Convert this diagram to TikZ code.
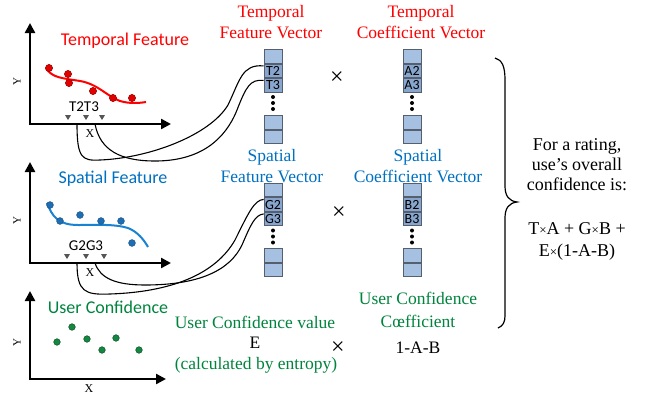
\documentclass[tikz,border=0pt]{standalone}
\usepackage{fontspec}
\setmainfont{Liberation Serif}
\newfontfamily\tnr{Liberation Serif}
\newfontfamily\calib{Carlito}
\usetikzlibrary{arrows.meta}
\definecolor{tred}{RGB}{255,0,0}
\definecolor{sblue}{RGB}{0,112,192}
\definecolor{ugreen}{RGB}{0,132,61}
\definecolor{dotred}{RGB}{225,0,0}
\definecolor{dotblue}{RGB}{30,110,180}
\definecolor{dotgreen}{RGB}{20,135,65}
\definecolor{curveblue}{RGB}{25,130,210}
\definecolor{boxfill}{RGB}{165,192,224}
\definecolor{boxlab}{RGB}{135,165,205}
\definecolor{boxdraw}{RGB}{85,95,110}
\definecolor{markgray}{RGB}{85,85,85}
\tikzset{
  axisline/.style={line width=2.4pt,-{Triangle[length=10pt,width=10pt]}},
  vbox/.style={draw=boxdraw,fill=boxfill,minimum width=18pt,minimum height=13.5pt,inner sep=0pt,line width=0.7pt},
  vlab/.style={vbox,fill=boxlab,font=\calib\fontsize{14}{14}\selectfont},
  sanslab/.style={font=\calib\fontsize{18}{21}\selectfont,inner sep=0pt},
  seriflab/.style={font=\tnr\fontsize{17.5}{21}\selectfont,align=center,inner sep=0pt},
  timeslab/.style={font=\tnr\fontsize{24}{24}\selectfont,inner sep=0pt,text height=9pt,text depth=0pt},
  ticklab/.style={font=\calib\fontsize{15}{15}\selectfont,inner sep=0pt},
  axlab/.style={font=\tnr\fontsize{11}{11}\selectfont,inner sep=0pt},
  xlab/.style={font=\tnr\fontsize{12}{12}\selectfont,inner sep=0pt},
  conn/.style={line width=1.1pt},
  tmark/.style={fill=markgray},
}
\newcommand{\tmk}[2]{\fill[tmark] (#1-3,#2-5) -- (#1+3,#2-5) -- (#1,#2) -- cycle;}
\begin{document}
\begin{tikzpicture}[x=1pt,y=-1pt]
\useasboundingbox (0,0) rectangle (646,400);

% ---------- Temporal plot ----------
\draw[axisline] (30,125.2) -- (30,23);
\draw[axisline] (28.8,124) -- (171,124);
\node[axlab,rotate=90] (ty) at (17,82) {Y};
\node[xlab] (tx) at (90,134) {X};
\node[sanslab,text=tred] (tfl) at (125,41) {Temporal Feature};
\draw[tred,line width=2pt] (46,68) .. controls (52,78) and (62,78) .. (80,81)
  .. controls (98,84) and (108,97) .. (120,101) .. controls (130,104) and (140,103) .. (146,102);
\foreach \p in {(49,68),(68,74),(69,83),(93,91),(113,98),(132,98)}
  \filldraw[fill=dotred,draw=red!60!black,line width=0.5pt] \p circle (3.6pt);
\tmk{68}{120}\tmk{86}{120}\tmk{102}{120}
\node[ticklab] (tt) at (84,107) {T2T3};

% ---------- Spatial plot ----------
\draw[axisline] (30,264.2) -- (30,162);
\draw[axisline] (28.8,263) -- (171,263);
\node[axlab,rotate=90] (sy) at (17,221) {Y};
\node[xlab] (sx) at (90,273) {X};
\node[sanslab,text=sblue] (sfl) at (113,179) {Spatial Feature};
\draw[curveblue,line width=2pt] (47,203) .. controls (52,216) and (58,225) .. (78,225)
  .. controls (100,225) and (115,224) .. (128,228) .. controls (138,232) and (144,240) .. (148,247);
\foreach \p in {(50,205),(60,221),(80,215),(101,221),(121,221),(132,243)}
  \filldraw[fill=dotblue,draw=dotblue!70!black,line width=0.5pt] \p circle (3.4pt);
\tmk{67}{259}\tmk{86}{259}\tmk{104}{259}
\node[ticklab] (gg) at (86,246) {G2G3};

% ---------- User confidence plot ----------
\draw[axisline] (30,380.2) -- (30,291);
\draw[axisline] (28.8,379) -- (166,379);
\node[axlab,rotate=90] (uy) at (17,343) {Y};
\node[xlab] (ux) at (89,389) {X};
\node[sanslab,text=ugreen] (ucl) at (108,307) {User Confidence};
\foreach \p in {(57,342),(72,327),(87,339),(102,350),(116,338),(139,350)}
  \filldraw[fill=dotgreen,draw=dotgreen!60!black,line width=0.5pt] \p circle (3.3pt);

% ---------- Temporal feature vector ----------
\node[seriflab,text=tred] (tfv) at (271,22.5) {Temporal\\Feature Vector};
\node[vbox] (tf1) at (273,56.5) {};
\node[vlab] (T2) at (273,71) {T2};
\node[vlab] (T3) at (273,85.5) {T3};
\node[vbox] (tf4) at (273,122.5) {};
\node[vbox] (tf5) at (273,137) {};
\fill (273,97) circle (2pt) (273,103) circle (2pt) (273,109) circle (2pt);

% ---------- Temporal coefficient vector ----------
\node[seriflab,text=tred] (tcv) at (421,22.5) {Temporal\\Coefficient Vector};
\node[vbox] (tc1) at (412,56.5) {};
\node[vlab] (A2) at (412,71) {A2};
\node[vlab] (A3) at (412,85.5) {A3};
\node[vbox] (tc4) at (412,122.5) {};
\node[vbox] (tc5) at (412,137) {};
\fill (412,97) circle (2pt) (412,103) circle (2pt) (412,109) circle (2pt);

% ---------- Spatial feature vector ----------
\node[seriflab,text=sblue] (sfv) at (272,166) {Spatial\\Feature Vector};
\node[vbox] (sf1) at (273,190) {};
\node[vlab] (G2) at (273,204.5) {G2};
\node[vlab] (G3) at (273,219) {G3};
\node[vbox] (sf4) at (273,255.5) {};
\node[vbox] (sf5) at (273,270) {};
\fill (273,230.5) circle (2pt) (273,236.5) circle (2pt) (273,242.5) circle (2pt);

% ---------- Spatial coefficient vector ----------
\node[seriflab,text=sblue] (scv) at (418,166) {Spatial\\Coefficient Vector};
\node[vbox] (sc1) at (412,190) {};
\node[vlab] (B2) at (412,204.5) {B2};
\node[vlab] (B3) at (412,219) {B3};
\node[vbox] (sc4) at (412,255.5) {};
\node[vbox] (sc5) at (412,270) {};
\fill (412,230.5) circle (2pt) (412,236.5) circle (2pt) (412,242.5) circle (2pt);

% ---------- User confidence texts ----------
\node[seriflab,text=ugreen] (ucv) at (255,322) {User Confidence value};
\node[seriflab] (ev) at (255,343) {E};
\node[seriflab,text=ugreen] (calc) at (256,365) {(calculated by entropy)};
\node[seriflab,text=ugreen,font=\tnr\fontsize{17.5}{23.5}\selectfont] (ucc) at (418,310) {User Confidence\\Cœfficient};
\node[seriflab] (omab) at (418,348) {1-A-B};

% ---------- multiplication signs ----------
\node[timeslab] (m1) at (337,80) {×};
\node[timeslab] (m2) at (339,215) {×};
\node[timeslab] (m3) at (338,350) {×};

% ---------- brace and result ----------
\draw[line width=1.2pt] (495,58) .. controls (502,60) and (505,66) .. (505,80)
  -- (505,186) .. controls (505,196) and (509,201) .. (517,202)
  .. controls (509,203) and (505,208) .. (505,218)
  -- (505,316) .. controls (505,322) and (503,326) .. (498,328);
\node[seriflab,font=\tnr\fontsize{18}{20}\selectfont] (res1) at (577,165) {For a rating,\\use’s overall\\confidence is:};
\node[seriflab,font=\tnr\fontsize{18}{22}\selectfont] (res2) at (577,241) {T{\fontsize{13}{13}\selectfont×}A + G{\fontsize{13}{13}\selectfont×}B +\\E{\fontsize{13}{13}\selectfont×}(1-A-B)};

% ---------- connectors ----------
\coordinate (t2s) at (77,124);
\coordinate (t3s) at (95,124);
\coordinate (g2s) at (77,263);
\coordinate (g3s) at (95,263);
\draw[conn] (t2s) .. controls (77,158) and (82,161) .. (100,160)
  .. controls (150,158) and (210,135) .. (228,105)
  .. controls (240,80) and (242,64) .. ([yshift=-2pt]T2.north west);
\draw[conn] (t3s) .. controls (100,150) and (120,161) .. (155,161)
  .. controls (200,161) and (225,140) .. (237,110)
  .. controls (246,87) and (250,79) .. ([yshift=-2pt]T3.north west);
\draw[conn] (g2s) .. controls (77,292) and (85,295) .. (110,294)
  .. controls (170,292) and (215,275) .. (235,240)
  .. controls (248,214) and (254,200) .. ([yshift=-2pt]G2.north west);
\draw[conn] (g3s) .. controls (100,278) and (115,285) .. (145,285)
  .. controls (200,285) and (230,270) .. (242,245)
  .. controls (251,224) and (255,215) .. ([yshift=-2pt]G3.north west);
\end{tikzpicture}
\end{document}
